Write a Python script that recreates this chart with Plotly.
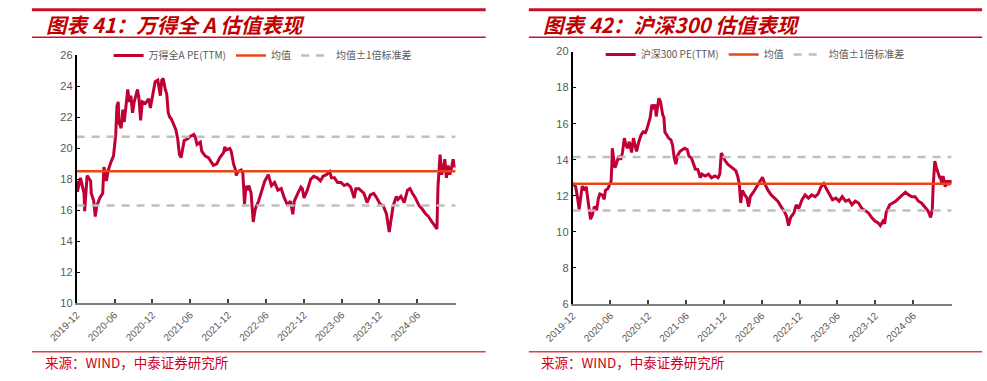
import plotly.graph_objects as go

# ---------------- data ----------------
wind_dates = [
    "2019-12-01","2019-12-05","2019-12-20","2020-01-06","2020-01-09","2020-01-21","2020-02-07","2020-02-10",
    "2020-02-22","2020-02-29","2020-03-08","2020-03-22","2020-04-05","2020-04-11","2020-04-23","2020-05-02",
    "2020-05-17","2020-05-27","2020-06-07","2020-06-13","2020-06-19","2020-06-22","2020-07-03","2020-07-11",
    "2020-07-18","2020-07-26","2020-08-04","2020-08-11","2020-08-19","2020-08-27","2020-09-04","2020-09-20",
    "2020-09-27","2020-10-05","2020-10-13","2020-10-28","2020-11-13","2020-11-21","2020-12-07","2020-12-14",
    "2020-12-27","2021-01-08","2021-01-15","2021-01-22","2021-02-01","2021-02-08","2021-02-15","2021-02-23",
    "2021-03-02","2021-03-09","2021-03-17","2021-03-24","2021-04-02","2021-04-10","2021-04-18","2021-04-25",
    "2021-05-03","2021-05-18","2021-06-04","2021-06-19","2021-06-26","2021-07-04","2021-07-20","2021-07-27",
    "2021-08-13","2021-08-28","2021-09-13","2021-09-21","2021-10-07","2021-10-22","2021-11-08","2021-11-15",
    "2021-11-22","2021-12-09","2021-12-16","2021-12-27","2022-01-06","2022-01-09","2022-01-17","2022-02-02",
    "2022-02-10","2022-02-18","2022-02-25","2022-03-03","2022-03-11","2022-03-22","2022-04-01","2022-04-11",
    "2022-04-27","2022-05-12","2022-05-27","2022-06-13","2022-06-28","2022-07-13","2022-07-29","2022-08-14",
    "2022-08-29","2022-09-15","2022-09-27","2022-10-09","2022-10-16","2022-11-02","2022-11-17","2022-11-24",
    "2022-12-02","2022-12-18","2023-01-03","2023-01-18","2023-02-04","2023-02-19","2023-03-04","2023-03-20",
    "2023-04-05","2023-04-13","2023-04-28","2023-05-13","2023-05-29","2023-06-14","2023-06-29","2023-07-15",
    "2023-08-01","2023-08-09","2023-08-24","2023-09-17","2023-10-02","2023-10-18","2023-11-03","2023-11-18",
    "2023-12-04","2023-12-19","2024-01-04","2024-01-17","2024-01-27","2024-02-05","2024-02-20","2024-02-28",
    "2024-03-13","2024-03-29","2024-04-14","2024-04-26","2024-05-08","2024-05-22","2024-06-09","2024-06-23",
    "2024-07-09","2024-07-24","2024-08-10","2024-08-25","2024-09-03","2024-09-08","2024-09-13","2024-09-18",
    "2024-09-26","2024-10-04","2024-10-11","2024-10-19","2024-10-27","2024-11-04","2024-11-12","2024-11-20",
    "2024-11-27","2024-12-02",
]
wind_pe = [
    17.9,17.2,18.1,17.1,15.95,18.25,17.9,17.1,
    16.6,15.6,16.3,16.8,17.1,18.8,17.9,18.6,
    19.2,19.5,20.9,22.75,23.0,21.7,21.3,22.5,
    21.7,22.6,23.8,23.0,23.4,22.3,23.0,23.8,
    23.2,21.8,23.0,22.9,23.2,22.6,23.8,24.3,
    24.4,23.4,24.4,24.5,23.8,23.5,22.3,22.0,
    21.9,21.7,21.4,21.2,20.6,19.6,19.4,20.0,
    20.5,20.6,20.8,20.9,20.7,20.25,20.4,19.8,
    19.5,19.4,19.1,18.9,19.0,19.4,19.7,20.1,
    19.9,20.0,19.8,19.0,18.6,18.25,18.5,18.6,
    18.4,16.4,17.6,17.3,17.6,17.1,15.25,16.1,
    16.6,17.3,17.9,18.3,17.6,17.8,17.3,17.4,
    16.8,16.3,16.6,15.75,16.6,17.1,17.5,17.4,
    16.8,17.3,18.0,18.2,18.1,17.9,18.2,18.3,
    18.5,18.1,18.1,17.8,17.8,17.6,17.7,17.5,
    16.8,17.4,17.4,17.1,16.5,17.0,17.1,16.8,
    16.4,16.3,15.75,14.6,15.7,16.3,16.9,16.7,
    16.9,16.5,17.3,17.4,17.1,16.8,16.3,16.1,
    15.8,15.6,15.25,15.0,14.8,17.5,18.7,19.6,
    18.3,18.7,19.3,18.1,18.9,18.3,18.7,19.3,
    18.8,18.9,
]
wind_mean = 18.53
wind_std = 2.22

hs300_dates = [
    "2019-12-01","2019-12-16","2019-12-23","2020-01-02","2020-01-09","2020-01-17","2020-01-24","2020-02-05",
    "2020-02-14","2020-02-20","2020-02-26","2020-03-06","2020-03-15","2020-03-26","2020-04-04","2020-04-11",
    "2020-04-22","2020-05-02","2020-05-08","2020-05-20","2020-05-29","2020-06-04","2020-06-08","2020-06-10",
    "2020-06-16","2020-06-23","2020-07-03","2020-07-11","2020-07-21","2020-07-29","2020-08-07","2020-08-15",
    "2020-08-23","2020-08-31","2020-09-11","2020-09-20","2020-09-28","2020-10-05","2020-10-16","2020-10-27",
    "2020-11-06","2020-11-17","2020-11-24","2020-12-02","2020-12-10","2020-12-18","2020-12-25","2021-01-03",
    "2021-01-08","2021-01-14","2021-01-21","2021-01-29","2021-02-08","2021-02-14","2021-02-19","2021-02-28",
    "2021-03-09","2021-03-20","2021-03-28","2021-04-05","2021-04-13","2021-04-20","2021-05-02","2021-05-14",
    "2021-05-26","2021-06-07","2021-06-15","2021-06-27","2021-07-08","2021-07-16","2021-07-28","2021-08-09",
    "2021-08-16","2021-09-02","2021-09-17","2021-10-02","2021-10-18","2021-11-03","2021-11-11","2021-11-18",
    "2021-11-26","2021-12-04","2021-12-19","2022-01-04","2022-01-20","2022-01-27","2022-02-05","2022-02-13",
    "2022-02-20","2022-02-28","2022-03-09","2022-03-22","2022-03-30","2022-04-07","2022-04-22","2022-05-08",
    "2022-05-23","2022-06-05","2022-06-16","2022-07-02","2022-07-17","2022-08-02","2022-08-18","2022-09-03",
    "2022-09-18","2022-09-29","2022-10-09","2022-10-19","2022-11-04","2022-11-15","2022-11-27","2022-12-13",
    "2022-12-28","2023-01-13","2023-01-29","2023-02-14","2023-02-28","2023-03-15","2023-03-28","2023-04-09",
    "2023-04-24","2023-05-09","2023-05-25","2023-06-10","2023-06-25","2023-07-11","2023-07-27","2023-08-11",
    "2023-08-27","2023-09-12","2023-09-28","2023-10-14","2023-10-29","2023-11-14","2023-11-30","2023-12-15",
    "2023-12-26","2024-01-08","2024-01-16","2024-01-23","2024-02-09","2024-02-24","2024-03-09","2024-03-25",
    "2024-04-10","2024-04-25","2024-05-11","2024-05-26","2024-06-11","2024-06-27","2024-07-12","2024-07-28",
    "2024-08-13","2024-08-25","2024-09-02","2024-09-06","2024-09-11","2024-09-14","2024-09-22","2024-09-30",
    "2024-10-07","2024-10-11","2024-10-18","2024-10-24","2024-11-03","2024-11-12","2024-11-18","2024-11-27",
    "2024-12-04",
]
hs300_pe = [
    12.7,12.5,12.05,11.24,11.9,12.55,12.3,12.5,
    11.7,11.06,10.7,10.95,11.4,11.2,11.87,12.1,
    12.05,11.8,12.3,12.4,12.6,12.8,13.75,14.64,
    14.1,13.56,13.9,14.2,14.0,14.4,15.2,14.8,
    14.64,15.0,14.4,15.2,14.8,14.46,15.0,15.37,
    15.55,15.5,15.7,15.98,16.35,17.05,16.9,17.05,
    16.4,16.9,17.41,17.2,16.5,16.35,15.53,15.37,
    15.2,15.1,14.8,14.1,13.75,14.2,14.46,14.55,
    14.64,14.55,14.2,14.1,13.75,13.48,13.45,13.0,
    13.2,13.1,13.2,13.0,13.1,13.0,13.2,14.37,
    14.2,14.0,13.75,13.6,13.5,13.4,13.1,12.67,
    11.6,12.3,12.1,11.87,11.4,11.95,12.2,12.5,
    12.8,13.03,12.67,12.3,12.05,11.87,11.7,11.4,
    11.15,10.88,10.35,10.8,11.06,11.5,11.3,11.78,
    12.05,11.87,12.05,11.95,12.1,12.5,12.67,12.4,
    12.1,11.78,11.87,11.7,11.95,11.7,11.78,11.5,
    11.7,11.6,11.3,11.15,11.06,10.8,10.6,10.5,
    10.35,10.6,10.45,11.06,11.5,11.6,11.7,11.87,
    12.05,12.2,12.05,11.95,11.95,11.7,11.6,11.4,
    11.15,10.8,11.25,12.5,13.39,13.92,13.55,13.2,
    13.03,13.03,12.67,13.1,12.5,12.85,12.6,12.85,
    12.67,
]
hs300_mean = 12.67
hs300_std = 1.48

tick_dates = ["2019-12-01","2020-06-01","2020-12-01","2021-06-01","2021-12-01",
              "2022-06-01","2022-12-01","2023-06-01","2023-12-01","2024-06-01"]
tick_labels = ["2019-12","2020-06","2020-12","2021-06","2021-12",
               "2022-06","2022-12","2023-06","2023-12","2024-06"]

titles = ["图表 41：万得全 A 估值表现", "图表 42：沪深300 估值表现"]
series_names = ["万得全A PE(TTM)", "沪深300 PE(TTM)"]
source_text = "来源：WIND，中泰证券研究所"

# ---------------- style ----------------
W, H = 987, 381
RED_LINE = "#C8102E"
SERIES_COLOR = "#C00035"
MEAN_COLOR = "#E8461A"
STD_COLOR = "#BFBFBF"
TXT_GRAY = "#595959"
TITLE_RED = "#C00000"

def px(x):
    return x / W

def py(y):
    return 1 - y / H

fig = go.Figure()

panels = [
    dict(dates=wind_dates, vals=wind_pe, mean=wind_mean, std=wind_std,
         xa="x", ya="y", legend="legend", name=series_names[0]),
    dict(dates=hs300_dates, vals=hs300_pe, mean=hs300_mean, std=hs300_std,
         xa="x2", ya="y2", legend="legend2", name=series_names[1]),
]

for p in panels:
    d0, d1 = p["dates"][0], p["dates"][-1]
    fig.add_trace(go.Scatter(x=p["dates"], y=p["vals"], mode="lines", name=p["name"],
                             line=dict(color=SERIES_COLOR, width=3), xaxis=p["xa"], yaxis=p["ya"],
                             legend=p["legend"]))
    fig.add_trace(go.Scatter(x=[d0, d1], y=[p["mean"], p["mean"]], mode="lines", name="均值",
                             line=dict(color=MEAN_COLOR, width=2.5), xaxis=p["xa"], yaxis=p["ya"],
                             legend=p["legend"]))
    fig.add_trace(go.Scatter(x=[d0, d1], y=[p["mean"] + p["std"]] * 2, mode="lines", name="均值±1倍标准差",
                             line=dict(color=STD_COLOR, width=2.5, dash="8px,7px"), xaxis=p["xa"], yaxis=p["ya"],
                             legend=p["legend"], legendgroup=p["legend"] + "std"))
    fig.add_trace(go.Scatter(x=[d0, d1], y=[p["mean"] - p["std"]] * 2, mode="lines", name="均值±1倍标准差",
                             line=dict(color=STD_COLOR, width=2.5, dash="8px,7px"), xaxis=p["xa"], yaxis=p["ya"],
                             legend=p["legend"], legendgroup=p["legend"] + "std", showlegend=False))

xaxis_common = dict(type="date", tickmode="array", tickvals=tick_dates, ticktext=tick_labels,
                    tickangle=-45, showgrid=False, zeroline=False, showline=True,
                    linecolor="#7F7F7F", linewidth=2, ticks="inside", ticklen=4, tickwidth=1.5,
                    tickcolor="#404040", tickfont=dict(size=10, color=TXT_GRAY, family="Liberation Sans, Arial"))
yaxis_common = dict(showgrid=False, zeroline=False, showline=True, linecolor="black", linewidth=1.5,
                    ticks="inside", ticklen=4, tickwidth=1, tickcolor="black", dtick=2,
                    tickfont=dict(size=11, color=TXT_GRAY, family="Liberation Sans, Arial"))

legend_common = dict(orientation="h", bgcolor="rgba(0,0,0,0)", borderwidth=0,
                     font=dict(size=10, color=TXT_GRAY, family="Noto Sans CJK SC"),
                     xanchor="left", yanchor="middle", itemwidth=30, tracegroupgap=0)

fig.update_layout(
    width=W, height=H, margin=dict(l=0, r=0, t=0, b=0),
    paper_bgcolor="white", plot_bgcolor="white", showlegend=True,
    xaxis=dict(domain=[px(49), px(439.5)], range=["2019-12-01", "2024-12-02"], anchor="y", **xaxis_common),
    yaxis=dict(domain=[py(307), py(51)], range=[10, 26], anchor="x", **yaxis_common),
    xaxis2=dict(domain=[px(560), px(950.5)], range=["2019-12-01", "2024-12-04"], anchor="y2", **xaxis_common),
    yaxis2=dict(domain=[py(307.7), py(47)], range=[6, 20], anchor="x2", **yaxis_common),
    legend=dict(x=px(82), y=py(51), **legend_common),
    legend2=dict(x=px(589), y=py(50), **legend_common),
)

# decorative header/footer rules
shapes = []
for (x0, x1) in [(3, 470.5), (515, 982)]:
    shapes.append(dict(type="line", xref="paper", yref="paper", x0=px(x0), x1=px(x1), y0=py(4), y1=py(4),
                       line=dict(color=RED_LINE, width=3)))
    shapes.append(dict(type="line", xref="paper", yref="paper", x0=px(x0), x1=px(x1), y0=py(32.3), y1=py(32.3),
                       line=dict(color=RED_LINE, width=1.5)))
    shapes.append(dict(type="line", xref="paper", yref="paper", x0=px(x0), x1=px(x1), y0=py(357), y1=py(357),
                       line=dict(color="#E04040", width=1.5)))
fig.update_layout(shapes=shapes)

annotations = []
for title, x0 in zip(titles, [15, 527]):
    annotations.append(dict(text="<b><i>" + title + "</i></b>", xref="paper", yref="paper",
                            x=px(x0), y=py(19), xanchor="left", yanchor="middle", showarrow=False,
                            font=dict(size=20.5, color=TITLE_RED, family="Noto Sans CJK SC")))
for x0 in [14, 525]:
    annotations.append(dict(text=source_text, xref="paper", yref="paper",
                            x=px(x0), y=py(368), xanchor="left", yanchor="middle", showarrow=False,
                            font=dict(size=13.5, color="#D0001C", family="Noto Sans CJK SC")))
fig.update_layout(annotations=annotations)

fig.write_html("out.html")
